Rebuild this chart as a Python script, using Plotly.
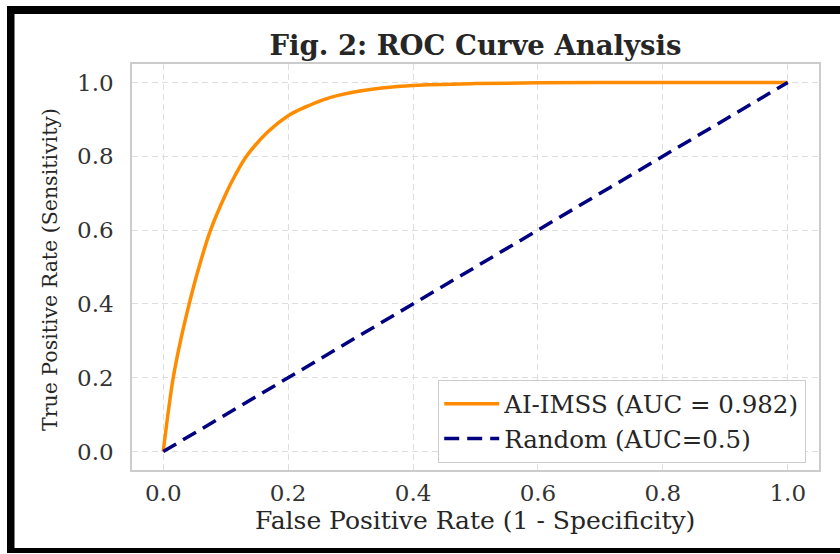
import plotly.graph_objects as go

# ---- data ----
fpr = [0, 0.0075, 0.016, 0.0277, 0.0416, 0.0565, 0.0758, 0.1013, 0.115, 0.1333, 0.168,
       0.2, 0.23, 0.256, 0.28, 0.315, 0.35, 0.4, 0.5, 0.6, 0.7, 0.8, 0.9, 1.0]
tpr = [0, 0.1, 0.2, 0.3, 0.4, 0.495, 0.6, 0.702, 0.748, 0.8, 0.867,
       0.91, 0.935, 0.953, 0.965, 0.977, 0.985, 0.992, 0.997, 0.999, 1.0, 1.0, 1.0, 1.0]
rand_x = [0, 1]
rand_y = [0, 1]
tick_vals = [0.0, 0.2, 0.4, 0.6, 0.8, 1.0]
tick_text = ["0.0", "0.2", "0.4", "0.6", "0.8", "1.0"]
model_name = "AI-IMSS (AUC = 0.982)"
random_name = "Random (AUC=0.5)"
title_text = "Fig. 2: ROC Curve Analysis"
x_title = "False Positive Rate (1 - Specificity)"
y_title = "True Positive Rate (Sensitivity)"

W, H = 840, 554
L, R, T, B = 132, 21, 64, 84
PW, PH = W - L - R, H - T - B


def px(x):
    return (x - L) / PW


def py(y):
    return (H - B - y) / PH


fig = go.Figure()
fig.add_trace(go.Scatter(x=fpr, y=tpr, mode="lines", name=model_name,
                         line=dict(color="#FF8C00", width=3.5, shape="spline", smoothing=1.0)))
fig.add_trace(go.Scatter(x=rand_x, y=rand_y, mode="lines", name=random_name,
                         line=dict(color="#000080", width=3.5, dash="15px,8px")))

grid = dict(showgrid=True, gridcolor="#dedede", gridwidth=1.2, griddash="6px,4px",
            zeroline=False, showline=True, linecolor="#cccccc", linewidth=1.5, mirror=True,
            tickvals=tick_vals, ticktext=tick_text, range=[-0.05, 1.05],
            tickfont=dict(family="DejaVu Serif", size=23, color="#333333"),
            ticks="outside", tickcolor="rgba(0,0,0,0)")

fig.update_xaxes(**grid, ticklen=2)
fig.update_yaxes(**grid, ticklen=12)

shapes = []
for (x0, y0, x1, y1) in [(7, 6, 845, 14), (7, 6, 14.5, 553), (7, 548, 845, 553)]:
    shapes.append(dict(type="rect", xref="paper", yref="paper",
                       x0=px(x0), x1=px(x1), y0=py(y1), y1=py(y0),
                       fillcolor="black", line=dict(width=0), layer="above"))

annotations = [
    dict(text=x_title, xref="paper", yref="paper", x=px(475), y=py(520),
         xanchor="center", yanchor="middle", showarrow=False,
         font=dict(family="DejaVu Serif", size=25, color="#262626")),
    dict(text=y_title, xref="paper", yref="paper", x=px(50), y=py(270),
         xanchor="center", yanchor="middle", showarrow=False, textangle=-90,
         font=dict(family="DejaVu Serif", size=20.5, color="#262626")),
]

fig.update_layout(
    width=W, height=H,
    margin=dict(l=L, r=R, t=T, b=B),
    paper_bgcolor="white", plot_bgcolor="white",
    title=dict(text="<b>" + title_text + "</b>", x=px(475.5), xref="paper",
               xanchor="center", y=1 - 45 / H, yref="container", yanchor="middle",
               font=dict(family="DejaVu Serif", size=27.5, color="#262626")),
    legend=dict(x=px(806), y=py(463), xanchor="right", yanchor="bottom",
                bgcolor="white", bordercolor="#cccccc", borderwidth=1.2,
                font=dict(family="DejaVu Serif", size=24.5, color="#262626"),
                itemwidth=55),
    shapes=shapes,
    annotations=annotations,
    showlegend=True,
)

fig.write_html("out.html", config={"displayModeBar": False},
               post_script="document.body.style.margin='0';document.body.style.overflow='hidden';")
